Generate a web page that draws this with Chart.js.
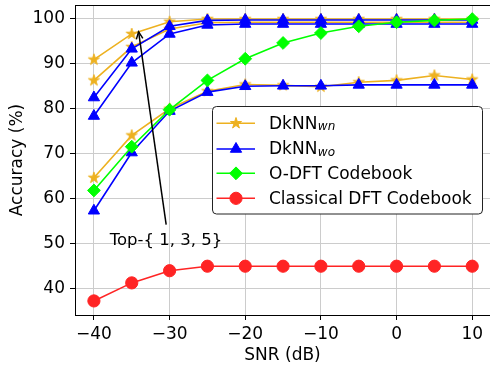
<!DOCTYPE html>
<html><head><meta charset="utf-8">
<script src="https://cdn.jsdelivr.net/npm/chart.js@4.4.1/dist/chart.umd.min.js"></script>
<style>html,body{margin:0;padding:0;background:#fff;}#wrap{width:490px;height:366px;position:relative;}</style>
</head><body><div id="wrap"><canvas id="c" width="490" height="366"></canvas></div>
<script>
// ---------- data ----------
const snr = [-40, -35, -30, -25, -20, -15, -10, -5, 0, 5, 10];
const xTicks = [-40, -30, -20, -10, 0, 10];
const yTicks = [40, 50, 60, 70, 80, 90, 100];
const wnTop5 = [90.8, 96.5, 99.2, 99.8, 99.8, 99.8, 99.8, 99.8, 99.8, 99.8, 99.8];
const wnTop3 = [86.2, 93.6, 97.6, 99.0, 99.1, 99.1, 99.1, 99.1, 99.1, 99.1, 99.1];
const wnTop1 = [64.6, 74.0, 79.9, 83.8, 85.3, 85.1, 84.8, 85.8, 86.2, 87.3, 86.4];
const woTop5 = [82.4, 93.2, 98.2, 99.5, 99.6, 99.6, 99.6, 99.6, 99.6, 99.6, 99.6];
const woTop3 = [78.3, 90.1, 96.5, 98.5, 98.7, 98.7, 98.7, 98.7, 98.7, 98.7, 98.7];
const woTop1 = [57.3, 70.2, 79.4, 83.6, 84.9, 85.0, 85.0, 85.2, 85.2, 85.2, 85.2];
const odft = [61.8, 71.5, 79.7, 86.2, 91.0, 94.5, 96.7, 98.2, 99.1, 99.5, 99.8];
const classicalDft = [37.3, 41.3, 44.0, 45.0, 45.0, 45.0, 45.0, 45.0, 45.0, 45.0, 45.0];
const legendNames = ['DkNN', 'DkNN', 'O-DFT Codebook', 'Classical DFT Codebook'];
const legendSubs = ['wn', 'wo', '', ''];
const annotationText = 'Top-{ 1, 3, 5}';
const arrowTail = {x: -30.45, y: 54.2};
const arrowTip = {x: -34.1, y: 97.0};
const textAnchor = {x: -37.92, y: 49.65};

// ---------- styles ----------
const ORANGE = '#EDB120', BLUE = '#0000ff', GREEN = '#00ff00', RED = '#ff2424';
const FONT = 'DejaVu Sans';
const SIZES = {star: 5.8, triangle: 6.5, rectRot: 6.4, circle: 6.1};

function drawMarker(ctx, style, x, y, color) {
  ctx.save();
  ctx.fillStyle = color; ctx.strokeStyle = color; ctx.lineWidth = 1;
  ctx.beginPath();
  const R = SIZES[style];
  if (style === 'star') {
    const r = R * 0.382;
    for (let i = 0; i < 10; i++) {
      const a = -Math.PI / 2 + i * Math.PI / 5;
      const rr = i % 2 ? r : R;
      const px = x + rr * Math.cos(a), py = y + rr * Math.sin(a);
      i ? ctx.lineTo(px, py) : ctx.moveTo(px, py);
    }
  } else if (style === 'triangle') {
    for (let i = 0; i < 3; i++) {
      const a = i * 2 * Math.PI / 3;
      const px = x + Math.sin(a) * R, py = y - Math.cos(a) * R;
      i ? ctx.lineTo(px, py) : ctx.moveTo(px, py);
    }
  } else if (style === 'rectRot') {
    ctx.moveTo(x - R, y); ctx.lineTo(x, y - R); ctx.lineTo(x + R, y); ctx.lineTo(x, y + R);
  } else {
    ctx.arc(x, y, R, 0, Math.PI * 2);
  }
  ctx.closePath(); ctx.fill(); ctx.stroke();
  ctx.restore();
}

const starImg = document.createElement('canvas');
starImg.width = 16; starImg.height = 16;
drawMarker(starImg.getContext('2d'), 'star', 8, 8, ORANGE);

const pts = arr => snr.map((x, i) => ({x, y: arr[i]}));
function ds(label, arr, color, style, order) {
  return {
    label, data: pts(arr), borderColor: color, backgroundColor: color,
    borderWidth: 1.6, pointStyle: style === 'star' ? starImg : style,
    pointRadius: SIZES[style],
    pointBorderWidth: 1, pointBackgroundColor: color, pointBorderColor: color,
    tension: 0, order, fill: false
  };
}

const legendItems = [
  {color: ORANGE, style: 'star'},
  {color: BLUE, style: 'triangle'},
  {color: GREEN, style: 'rectRot'},
  {color: RED, style: 'circle'}
];

const overlay = {
  id: 'overlay',
  afterDatasetsDraw(chart) {
    const {ctx, chartArea: a, scales: {x, y}} = chart;
    ctx.save();
    // top spine (right spine falls just outside the canvas)
    ctx.strokeStyle = '#000'; ctx.lineWidth = 1;
    ctx.beginPath(); ctx.moveTo(a.left, a.top + 0.5); ctx.lineTo(a.right, a.top + 0.5); ctx.stroke();
    // annotation arrow
    const tx = x.getPixelForValue(arrowTail.x), ty = y.getPixelForValue(arrowTail.y);
    const hx = x.getPixelForValue(arrowTip.x), hy = y.getPixelForValue(arrowTip.y);
    ctx.strokeStyle = '#000'; ctx.lineWidth = 1.5;
    ctx.beginPath(); ctx.moveTo(tx, ty); ctx.lineTo(hx, hy); ctx.stroke();
    const ang = Math.atan2(ty - hy, tx - hx);
    const hl = 8, spread = 0.42;
    ctx.beginPath();
    ctx.moveTo(hx + hl * Math.cos(ang - spread), hy + hl * Math.sin(ang - spread));
    ctx.lineTo(hx, hy);
    ctx.lineTo(hx + hl * Math.cos(ang + spread), hy + hl * Math.sin(ang + spread));
    ctx.stroke();
    ctx.fillStyle = '#000';
    ctx.font = '16.5px "' + FONT + '"';
    ctx.textAlign = 'left'; ctx.textBaseline = 'alphabetic';
    ctx.fillText(annotationText, x.getPixelForValue(textAnchor.x), y.getPixelForValue(textAnchor.y));
    ctx.restore();
  },
  afterDraw(chart) {
    const {ctx, chartArea: a} = chart;
    const L = {left: 212.5, top: 106.5, right: a.right - 7.5, bottom: 214};
    const rows = [123.3, 149, 173.3, 198.3];
    ctx.save();
    ctx.beginPath();
    ctx.roundRect(L.left, L.top, L.right - L.left, L.bottom - L.top, 4);
    ctx.fillStyle = '#fff'; ctx.fill();
    ctx.strokeStyle = '#222'; ctx.lineWidth = 1; ctx.stroke();
    legendItems.forEach((it, i) => {
      const ry = rows[i];
      ctx.strokeStyle = it.color; ctx.lineWidth = 1.6;
      ctx.beginPath(); ctx.moveTo(216.5, ry); ctx.lineTo(255, ry); ctx.stroke();
      drawMarker(ctx, it.style, 236, ry, it.color);
      ctx.fillStyle = '#000';
      ctx.font = '17px "' + FONT + '"';
      ctx.textAlign = 'left'; ctx.textBaseline = 'alphabetic';
      const tx = 269, by = ry + 5.4;
      ctx.fillText(legendNames[i], tx, by);
      if (legendSubs[i]) {
        const w = ctx.measureText(legendNames[i]).width;
        ctx.font = 'italic 12px "' + FONT + '"';
        ctx.fillText(legendSubs[i], tx + w + 0.5, by + 1.3);
      }
    });
    ctx.restore();
  }
};

const fmt = v => String(v).replace('-', '\u2212');
const zeroPad = s => { s.paddingTop = 0; s.paddingBottom = 0; s.paddingLeft = 0; s.paddingRight = 0; };

new Chart(document.getElementById('c'), {
  type: 'line',
  data: {
    datasets: [
      ds('DkNN_wn Top-5', wnTop5, ORANGE, 'star', 4),
      ds('DkNN_wn Top-3', wnTop3, ORANGE, 'star', 4),
      ds('DkNN_wn Top-1', wnTop1, ORANGE, 'star', 4),
      ds('DkNN_wo Top-5', woTop5, BLUE, 'triangle', 3),
      ds('DkNN_wo Top-3', woTop3, BLUE, 'triangle', 3),
      ds('DkNN_wo Top-1', woTop1, BLUE, 'triangle', 3),
      ds('O-DFT Codebook', odft, GREEN, 'rectRot', 2),
      ds('Classical DFT Codebook', classicalDft, RED, 'circle', 1)
    ]
  },
  options: {
    responsive: false, animation: false, devicePixelRatio: 1, events: [],
    layout: {autoPadding: false, padding: {top: 5, right: 0, left: 0, bottom: 0}},
    font: {family: FONT, size: 17},
    plugins: {legend: {display: false}, tooltip: {enabled: false}},
    scales: {
      x: {
        type: 'linear', min: -42.5, max: 12.35,
        afterBuildTicks: s => { s.ticks = xTicks.map(v => ({value: v})); },
        afterFit: s => { s.height = 51; zeroPad(s); },
        grid: {color: '#cccccc', lineWidth: 1, tickColor: '#000', tickLength: 5},
        border: {display: true, color: '#000', width: 1},
        ticks: {color: '#000', font: {family: FONT, size: 17}, padding: 4, maxRotation: 0, autoSkip: false, callback: v => fmt(v)},
        title: {display: true, text: 'SNR (dB)', color: '#000', font: {family: FONT, size: 17}, padding: {top: 0, bottom: 0}}
      },
      y: {
        type: 'linear', min: 34.18, max: 102.92,
        afterBuildTicks: s => { s.ticks = yTicks.map(v => ({value: v})); },
        afterFit: s => { s.width = 75; zeroPad(s); },
        grid: {color: '#cccccc', lineWidth: 1, tickColor: '#000', tickLength: 5},
        border: {display: true, color: '#000', width: 1},
        ticks: {color: '#000', font: {family: FONT, size: 17}, padding: 5, autoSkip: false, callback: v => fmt(v)},
        title: {display: true, text: 'Accuracy (%)', color: '#000', font: {family: FONT, size: 17}, padding: {top: 7, bottom: 0}}
      }
    }
  },
  plugins: [overlay]
});
</script></body></html>
